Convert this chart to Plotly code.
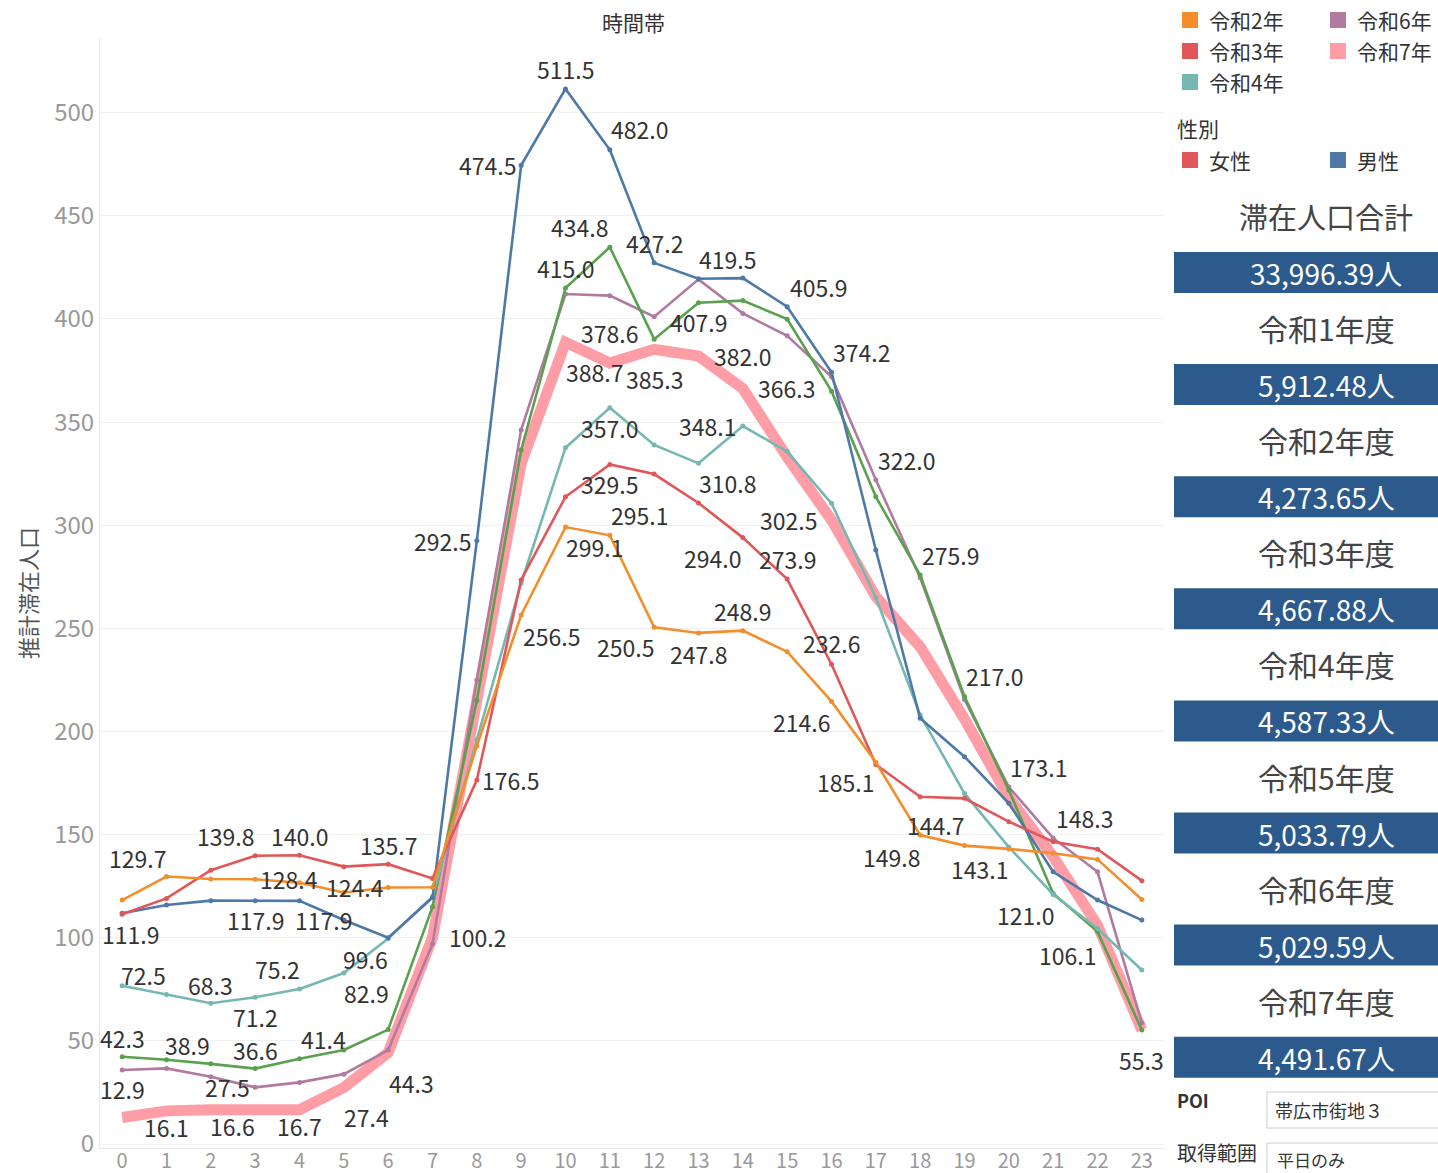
import plotly.graph_objects as go

# 時間帯 (0-23時)
hours = list(range(24))

# 推計滞在人口 per hour, one list per year
reiwa1 = [111.9, 115.9, 118.0, 117.9, 117.9, 108.6, 100.0, 119.5, 292.5, 474.5, 511.5, 482.0,
          427.2, 419.5, 419.8, 405.9, 374.2, 288.0, 206.4, 187.8, 165.2, 132.0, 118.3, 108.6]
reiwa2 = [118.3, 129.7, 128.5, 128.4, 126.7, 122.0, 124.4, 124.5, 193.0, 256.5, 299.1, 295.1,
          250.5, 247.8, 248.9, 238.7, 214.6, 185.1, 149.8, 144.7, 143.1, 141.0, 138.0, 118.6]
reiwa3 = [111.4, 119.1, 132.8, 139.8, 140.0, 134.5, 135.7, 128.8, 176.5, 273.5, 313.8, 329.5,
          324.8, 310.8, 294.0, 273.9, 232.6, 184.0, 168.4, 167.6, 156.3, 146.6, 142.9, 127.7]
reiwa4 = [76.8, 72.5, 68.3, 71.2, 75.2, 82.9, 99.6, 119.9, 196.0, 272.0, 337.6, 357.0,
          338.9, 330.0, 348.1, 335.7, 310.6, 265.0, 208.0, 170.0, 144.0, 121.0, 104.5, 84.4]
reiwa5 = [42.3, 40.9, 38.9, 36.6, 41.4, 45.6, 55.5, 115.0, 215.0, 336.5, 415.0, 434.8,
          390.2, 407.9, 408.9, 399.9, 365.0, 313.8, 275.9, 217.0, 171.6, 121.5, 103.0, 55.3]
reiwa6 = [35.9, 36.7, 32.6, 27.5, 29.9, 33.9, 45.6, 97.0, 225.0, 346.2, 412.1, 411.3,
          401.1, 419.2, 402.7, 391.8, 372.0, 322.0, 274.5, 215.5, 173.1, 148.3, 132.0, 58.7]
reiwa7 = [12.9, 16.1, 16.6, 16.6, 16.7, 27.4, 44.3, 100.2, 215.0, 330.0, 388.7, 378.6,
          385.3, 382.0, 366.3, 333.0, 302.5, 265.4, 241.1, 206.0, 168.0, 139.3, 106.1, 55.3]

series = {
    "令和1年": reiwa1, "令和2年": reiwa2, "令和3年": reiwa3, "令和4年": reiwa4,
    "令和5年": reiwa5, "令和6年": reiwa6, "令和7年": reiwa7,
}
colors = {
    "令和1年": "#4E79A7", "令和2年": "#F28E2B", "令和3年": "#E15759", "令和4年": "#76B7B2",
    "令和5年": "#59A14F", "令和6年": "#B07AA1", "令和7年": "#FF9DA7",
}
draw_order = ["令和7年", "令和6年", "令和5年", "令和4年", "令和1年", "令和3年", "令和2年"]

# right-hand summary panel
total_label = "滞在人口合計"
total_value = 33996.39
year_labels = ["令和1年度", "令和2年度", "令和3年度", "令和4年度", "令和5年度", "令和6年度", "令和7年度"]
year_values = [5912.48, 4273.65, 4667.88, 4587.33, 5033.79, 5029.59, 4491.67]

# which points get a value label, and pixel offset (dx right, dy down)
labels = [
    ("令和1年", 10, 0, -20), ("令和1年", 9, -34, 0), ("令和1年", 11, 30, -21),
    ("令和5年", 11, -30, -20), ("令和1年", 12, 0, -20), ("令和1年", 13, 29, -20),
    ("令和5年", 10, 0, -20), ("令和1年", 15, 31, -20), ("令和5年", 13, 0, 19),
    ("令和7年", 11, 0, -30), ("令和7年", 13, 44, 0), ("令和1年", 16, 30, -20),
    ("令和7年", 10, 29, 30), ("令和7年", 12, 0, 30), ("令和7年", 14, 44, 0),
    ("令和4年", 11, 0, 20), ("令和4年", 14, -35, 0), ("令和6年", 17, 31, -20),
    ("令和3年", 11, 0, 20), ("令和3年", 13, 29, -20), ("令和2年", 11, 30, -20),
    ("令和7年", 16, -43, 0), ("令和1年", 8, -34, 0), ("令和2年", 10, 29, 20),
    ("令和3年", 14, -30, 20), ("令和3年", 15, 0, -20), ("令和5年", 18, 30, -20),
    ("令和2年", 14, 0, -20), ("令和2年", 9, 30, 21), ("令和3年", 16, 0, -21),
    ("令和2年", 12, -29, 20), ("令和2年", 13, 0, 21), ("令和5年", 19, 30, -20),
    ("令和2年", 16, -30, 21), ("令和3年", 8, 34, 0), ("令和2年", 17, -30, 20),
    ("令和6年", 20, 30, -20), ("令和6年", 21, 31, -20), ("令和2年", 19, -29, -21),
    ("令和2年", 18, -29, 22), ("令和2年", 20, -29, 20), ("令和4年", 21, -28, 21),
    ("令和7年", 22, -30, 30), ("令和7年", 23, 0, 30),
    ("令和2年", 1, -29, -19), ("令和3年", 3, -30, -20), ("令和3年", 4, 0, -19),
    ("令和3年", 6, 0, -19), ("令和2年", 3, 34, 0), ("令和2年", 6, -33, 0),
    ("令和1年", 0, 8, 21), ("令和1年", 3, 0, 19), ("令和1年", 4, 24, 19),
    ("令和7年", 7, 45, 0), ("令和4年", 6, -23, 20), ("令和4年", 1, -23, -20),
    ("令和4年", 2, 0, -18), ("令和4年", 4, -22, -20), ("令和4年", 5, 23, 20),
    ("令和4年", 3, 0, 20), ("令和5年", 0, 0, -19), ("令和5年", 2, -23, -19),
    ("令和5年", 3, 0, -19), ("令和5年", 4, 24, -20), ("令和7年", 0, 0, -28),
    ("令和6年", 3, -28, 0), ("令和7年", 6, 23, 30), ("令和7年", 1, 0, 16),
    ("令和7年", 2, 22, 16), ("令和7年", 4, 0, 16), ("令和7年", 5, 23, 29),
]

FONT = "Noto Sans CJK JP"
TEXT = "#333333"
BOX = "#2C5A8C"

W, H = 1438, 1173
# plot box in window pixels
PL, PR, PT, PB = 100, 1164, 38, 1148


def px(x):
    return (x - PL) / (PR - PL)


def py(y):
    return (PB - y) / (PB - PT)


def note(x, y, text, size, color=TEXT, xanchor="center"):
    return dict(x=px(x), y=py(y), xref="paper", yref="paper", text=text, showarrow=False,
                xanchor=xanchor, yanchor="middle", font=dict(family=FONT, size=size, color=color))


def box(x0, y0, x1, y1, fill, line=None):
    return dict(type="rect", xref="paper", yref="paper", x0=px(x0), x1=px(x1),
                y0=py(y1), y1=py(y0), fillcolor=fill,
                line=line if line else dict(width=0), layer="above")


fig = go.Figure()

for name in draw_order:
    thick = name == "令和7年"
    fig.add_trace(go.Scatter(
        x=hours, y=series[name], name=name,
        mode="lines" if thick else "lines+markers",
        line=dict(color=colors[name], width=11 if thick else 2.6),
        marker=dict(size=5, color=colors[name]),
        showlegend=False,
    ))

annotations = []
for name, h, dx, dy in labels:
    v = series[name][h]
    annotations.append(dict(
        x=h, y=v, xref="x", yref="y", text=f"{v:.1f}", showarrow=False,
        xanchor="center", yanchor="middle",
        xshift=dx, yshift=-dy, font=dict(family=FONT, size=23, color=TEXT),
    ))

# axis header
annotations.append(note(633, 22, "時間帯", 21))

shapes = []

# colour legend, filled column-wise (top row scrolled out of view)
legend_rows = [("令和2年", "令和6年"), ("令和3年", "令和7年"), ("令和4年", None)]
for i, row in enumerate(legend_rows):
    yc = 20 + 31 * i
    for j, name in enumerate(row):
        if name is None:
            continue
        x0 = 1182 + 148 * j
        shapes.append(box(x0, yc - 8, x0 + 16, yc + 8, colors[name]))
        annotations.append(note(x0 + 25, yc, name, 21, xanchor="left"))

annotations.append(note(1175, 128, "性別", 21, xanchor="left"))
for j, (name, col) in enumerate([("女性", "#E15759"), ("男性", "#4E79A7")]):
    x0 = 1182 + 148 * j
    shapes.append(box(x0, 152, x0 + 16, 168, col))
    annotations.append(note(x0 + 25, 160, name, 21, xanchor="left"))

# summary panel
panel_text = [total_label] + year_labels
panel_vals = [total_value] + year_values
for i, (lab, val) in enumerate(zip(panel_text, panel_vals)):
    top = 252 + 112.1 * i
    annotations.append(note(1326, top - 36, lab, 29 if i == 0 else 30, color="#444444"))
    shapes.append(box(1174, top, 1445, top + 41, BOX))
    annotations.append(note(1326, top + 21, f"{val:,.2f}人", 28, color="white"))

# filters
annotations.append(note(1175, 1100, "<b>POI</b>", 18, xanchor="left"))
shapes.append(box(1267, 1092, 1445, 1128, "white", dict(color="#cccccc", width=1)))
annotations.append(note(1273, 1110, "帯広市街地３", 18, xanchor="left"))
annotations.append(note(1175, 1152, "取得範囲", 20, xanchor="left"))
shapes.append(box(1267, 1143, 1445, 1180, "white", dict(color="#cccccc", width=1)))
annotations.append(note(1275, 1159, "平日のみ", 17, xanchor="left"))

fig.update_layout(
    width=W, height=H,
    margin=dict(l=PL, r=W - PR, t=PT, b=H - PB),
    paper_bgcolor="white", plot_bgcolor="white",
    font=dict(family=FONT, color=TEXT),
    showlegend=False,
    annotations=annotations,
    shapes=shapes,
    xaxis=dict(
        range=[-0.5, 23.5], tickmode="array", tickvals=hours, ticktext=[str(h) for h in hours],
        showgrid=False, zeroline=False, showline=True, linecolor="#e6e6e6", automargin=False,
        tickfont=dict(family=FONT, size=20, color="#999999"), ticks="", ticklabelstandoff=-5,
    ),
    yaxis=dict(
        range=[-1.9, 536.2], tickvals=list(range(0, 501, 50)), automargin=False,
        showgrid=True, gridcolor="#f0f0f0", zeroline=False, showline=True, linecolor="#e6e6e6",
        tickfont=dict(family=FONT, size=24, color="#999999"), ticks="",
        title=dict(text="推計滞在人口", font=dict(family=FONT, size=22, color="#555555"), standoff=10),
    ),
)

# drop the default body margin so the figure fills the window exactly
fig.write_html("out.html", config={"displayModeBar": False},
               post_script="document.body.style.margin='0';")
